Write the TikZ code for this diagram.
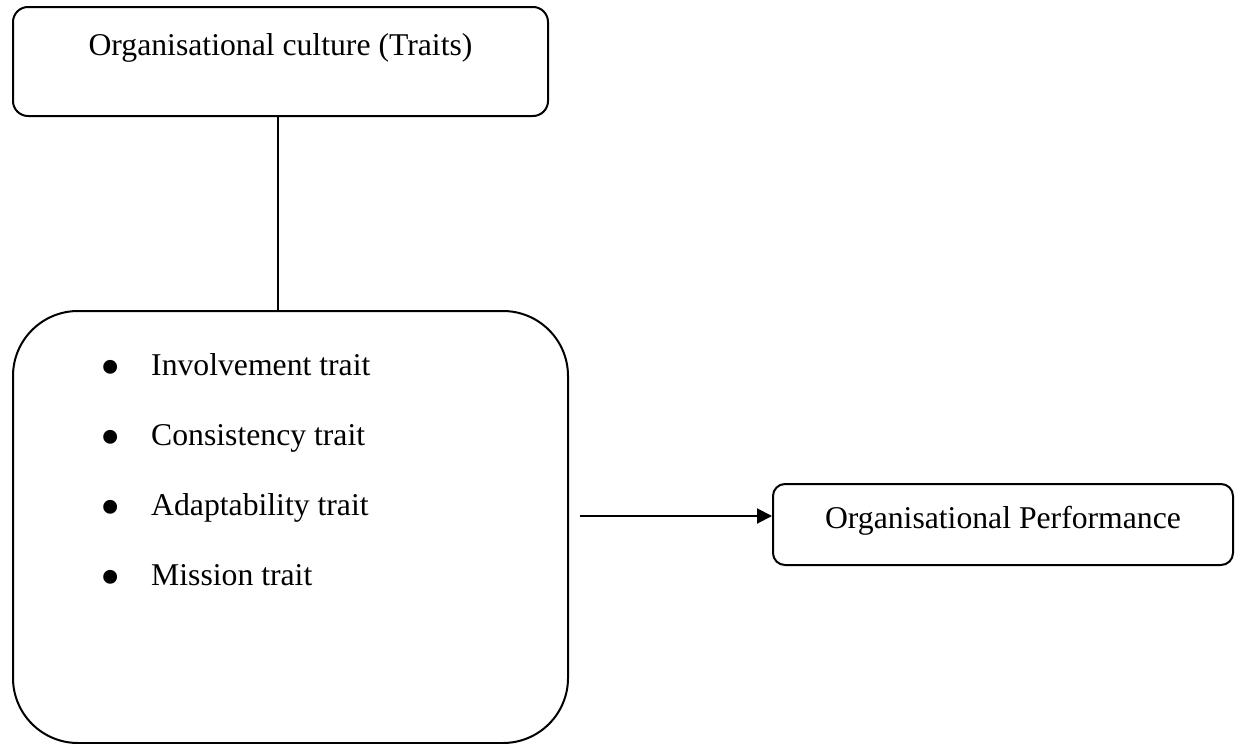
\documentclass[tikz,border=0pt]{standalone}
\usepackage{fontspec}
\setmainfont{Liberation Serif}
\usetikzlibrary{arrows.meta}
\begin{document}
\begin{tikzpicture}[x=1pt,y=1pt,
  box/.style={draw=black,line width=2pt,inner sep=0pt},
  lbl/.style={inner sep=0pt,font=\fontsize{31.7}{38}\selectfont},
  bulletdot/.style={inner sep=0pt,font=\fontsize{58}{64}\selectfont},
  conn/.style={draw=black,line width=2pt}]
\useasboundingbox (0,0) rectangle (1242,-744);
\node[box,rounded corners=15pt,minimum width=535pt,minimum height=109pt] (top) at (280.5,-61.5) {};
\node[box,rounded corners=65pt,minimum width=555pt,minimum height=432pt] (big) at (290.5,-527) {};
\node[box,rounded corners=12pt,minimum width=460pt,minimum height=81pt] (perf) at (1003,-524.5) {};
\node[lbl,anchor=base] (toptxt) at (280.5,-55) {Organisational culture (Traits)};
\node[lbl,anchor=base] (perftxt) at (1003,-528) {Organisational Performance};
\foreach \y/\t/\n in {375/Involvement trait/a,445/Consistency trait/b,515/Adaptability trait/c,585/Mission trait/d}{
  \node[bulletdot,anchor=base] (bul\n) at (111,-\y-11) {\textbullet};
  \node[lbl,anchor=base west] (item\n) at (151,-\y) {\t};
}
\draw[conn] ([xshift=-2.5pt]top.south) -- ([xshift=-12.5pt]big.north);
\coordinate (as) at (580,-516);
\draw[conn,-{Triangle[length=15pt,width=15pt]}] (as) -- (perf.west |- as);
\end{tikzpicture}
\end{document}
